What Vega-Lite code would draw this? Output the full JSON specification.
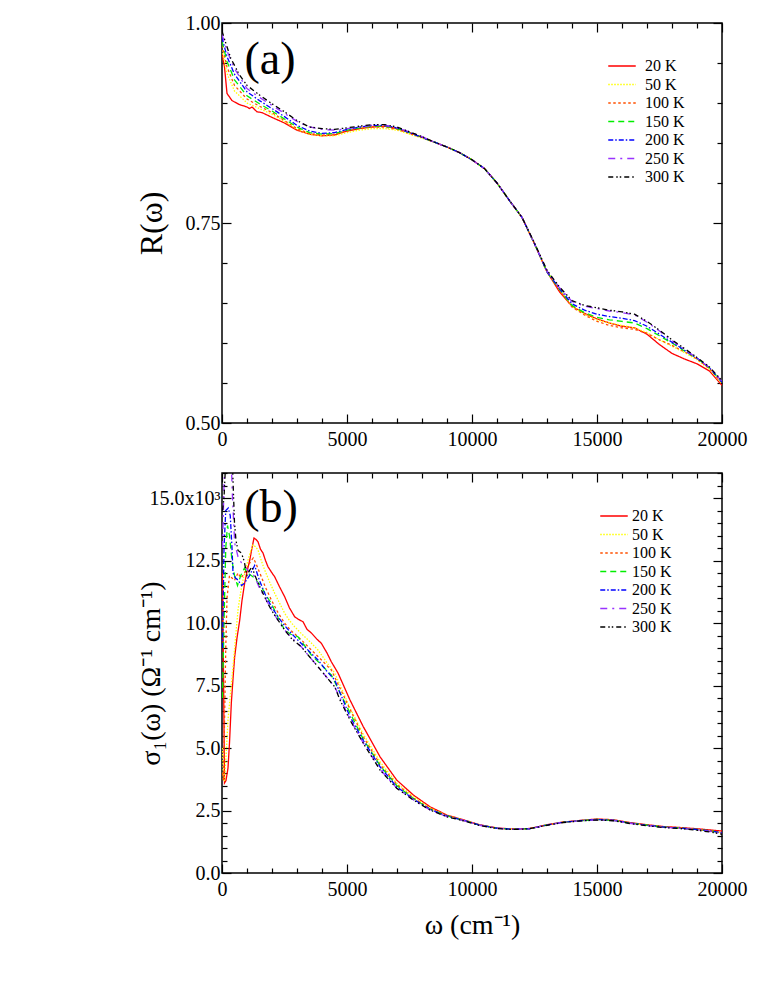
{
  "$schema": "https://vega.github.io/schema/vega-lite/v6.json",
  "background": "white",
  "padding": {"left": 134, "top": 12, "right": 5, "bottom": 5},
  "spacing": 8,
  "config": {
    "view": {"stroke": "black", "strokeWidth": 1.5},
    "font": "Liberation Serif",
    "axis": {"labelFont": "Liberation Serif", "titleFont": "Liberation Serif", "labelFontSize": 20, "labelColor": "black", "tickColor": "black", "tickWidth": 1.2, "domain": false, "grid": false, "titleFontWeight": "normal", "titleColor": "black"},
    "legend": {"labelFont": "Liberation Serif", "labelFontSize": 16, "labelColor": "black", "padding": 0, "rowPadding": 2.5, "symbolStrokeWidth": 1.5, "symbolType": "M-2.75,0H2.75", "symbolSize": 100}
  },
  "datasets": {
    "a": [
      {"T":"20 K","w":0,"v":0.962},{"T":"20 K","w":100,"v":0.945},{"T":"20 K","w":200,"v":0.912},{"T":"20 K","w":400,"v":0.903},{"T":"20 K","w":700,"v":0.898},{"T":"20 K","w":1000,"v":0.895},{"T":"20 K","w":1100,"v":0.893},{"T":"20 K","w":1200,"v":0.895},{"T":"20 K","w":1400,"v":0.889},{"T":"20 K","w":1600,"v":0.888},{"T":"20 K","w":2000,"v":0.882},{"T":"20 K","w":2500,"v":0.875},{"T":"20 K","w":3000,"v":0.866},{"T":"20 K","w":3500,"v":0.861},{"T":"20 K","w":4000,"v":0.859},{"T":"20 K","w":4500,"v":0.86},{"T":"20 K","w":5000,"v":0.865},{"T":"20 K","w":5500,"v":0.868},{"T":"20 K","w":6000,"v":0.87},{"T":"20 K","w":6500,"v":0.871},{"T":"20 K","w":7000,"v":0.868},{"T":"20 K","w":7500,"v":0.863},{"T":"20 K","w":8000,"v":0.857},{"T":"20 K","w":8500,"v":0.851},{"T":"20 K","w":9000,"v":0.845},{"T":"20 K","w":9500,"v":0.838},{"T":"20 K","w":10000,"v":0.829},{"T":"20 K","w":10500,"v":0.818},{"T":"20 K","w":11000,"v":0.8},{"T":"20 K","w":11500,"v":0.778},{"T":"20 K","w":12000,"v":0.757},{"T":"20 K","w":12500,"v":0.724},{"T":"20 K","w":13000,"v":0.689},{"T":"20 K","w":13500,"v":0.664},{"T":"20 K","w":14000,"v":0.646},{"T":"20 K","w":14500,"v":0.637},{"T":"20 K","w":15000,"v":0.63},{"T":"20 K","w":15500,"v":0.625},{"T":"20 K","w":16000,"v":0.621},{"T":"20 K","w":16500,"v":0.619},{"T":"20 K","w":17000,"v":0.611},{"T":"20 K","w":17500,"v":0.598},{"T":"20 K","w":18000,"v":0.587},{"T":"20 K","w":18500,"v":0.58},{"T":"20 K","w":19000,"v":0.574},{"T":"20 K","w":19500,"v":0.565},{"T":"20 K","w":20000,"v":0.547},

      {"T":"50 K","w":0,"v":0.966},{"T":"50 K","w":200,"v":0.937},{"T":"50 K","w":500,"v":0.915},{"T":"50 K","w":1000,"v":0.9},{"T":"50 K","w":1500,"v":0.893},{"T":"50 K","w":2000,"v":0.886},{"T":"50 K","w":2500,"v":0.877},{"T":"50 K","w":3000,"v":0.867},{"T":"50 K","w":3500,"v":0.861},{"T":"50 K","w":4000,"v":0.859},{"T":"50 K","w":4500,"v":0.859},{"T":"50 K","w":5000,"v":0.863},{"T":"50 K","w":5500,"v":0.866},{"T":"50 K","w":6000,"v":0.868},{"T":"50 K","w":6500,"v":0.868},{"T":"50 K","w":7000,"v":0.866},{"T":"50 K","w":7500,"v":0.861},{"T":"50 K","w":8000,"v":0.856},{"T":"50 K","w":8500,"v":0.851},{"T":"50 K","w":9000,"v":0.845},{"T":"50 K","w":9500,"v":0.838},{"T":"50 K","w":10000,"v":0.829},{"T":"50 K","w":10500,"v":0.818},{"T":"50 K","w":11000,"v":0.8},{"T":"50 K","w":11500,"v":0.778},{"T":"50 K","w":12000,"v":0.757},{"T":"50 K","w":12500,"v":0.724},{"T":"50 K","w":13000,"v":0.689},{"T":"50 K","w":13500,"v":0.667},{"T":"50 K","w":14000,"v":0.646},{"T":"50 K","w":14500,"v":0.636},{"T":"50 K","w":15000,"v":0.629},{"T":"50 K","w":15500,"v":0.625},{"T":"50 K","w":16000,"v":0.622},{"T":"50 K","w":16500,"v":0.619},{"T":"50 K","w":17000,"v":0.613},{"T":"50 K","w":17500,"v":0.604},{"T":"50 K","w":18000,"v":0.596},{"T":"50 K","w":18500,"v":0.588},{"T":"50 K","w":19000,"v":0.579},{"T":"50 K","w":19500,"v":0.567},{"T":"50 K","w":20000,"v":0.549},

      {"T":"100 K","w":0,"v":0.972},{"T":"100 K","w":200,"v":0.945},{"T":"100 K","w":500,"v":0.922},{"T":"100 K","w":1000,"v":0.905},{"T":"100 K","w":1500,"v":0.896},{"T":"100 K","w":2000,"v":0.888},{"T":"100 K","w":2500,"v":0.878},{"T":"100 K","w":3000,"v":0.868},{"T":"100 K","w":3500,"v":0.862},{"T":"100 K","w":4000,"v":0.86},{"T":"100 K","w":4500,"v":0.861},{"T":"100 K","w":5000,"v":0.865},{"T":"100 K","w":5500,"v":0.868},{"T":"100 K","w":6000,"v":0.87},{"T":"100 K","w":6500,"v":0.87},{"T":"100 K","w":7000,"v":0.867},{"T":"100 K","w":7500,"v":0.862},{"T":"100 K","w":8000,"v":0.857},{"T":"100 K","w":8500,"v":0.851},{"T":"100 K","w":9000,"v":0.845},{"T":"100 K","w":9500,"v":0.838},{"T":"100 K","w":10000,"v":0.829},{"T":"100 K","w":10500,"v":0.818},{"T":"100 K","w":11000,"v":0.8},{"T":"100 K","w":11500,"v":0.778},{"T":"100 K","w":12000,"v":0.757},{"T":"100 K","w":12500,"v":0.724},{"T":"100 K","w":13000,"v":0.689},{"T":"100 K","w":13500,"v":0.666},{"T":"100 K","w":14000,"v":0.645},{"T":"100 K","w":14500,"v":0.635},{"T":"100 K","w":15000,"v":0.627},{"T":"100 K","w":15500,"v":0.622},{"T":"100 K","w":16000,"v":0.619},{"T":"100 K","w":16500,"v":0.617},{"T":"100 K","w":17000,"v":0.612},{"T":"100 K","w":17500,"v":0.604},{"T":"100 K","w":18000,"v":0.597},{"T":"100 K","w":18500,"v":0.589},{"T":"100 K","w":19000,"v":0.58},{"T":"100 K","w":19500,"v":0.568},{"T":"100 K","w":20000,"v":0.55},

      {"T":"150 K","w":0,"v":0.977},{"T":"150 K","w":200,"v":0.952},{"T":"150 K","w":500,"v":0.929},{"T":"150 K","w":1000,"v":0.909},{"T":"150 K","w":1500,"v":0.899},{"T":"150 K","w":2000,"v":0.89},{"T":"150 K","w":2500,"v":0.88},{"T":"150 K","w":3000,"v":0.87},{"T":"150 K","w":3500,"v":0.863},{"T":"150 K","w":4000,"v":0.861},{"T":"150 K","w":4500,"v":0.862},{"T":"150 K","w":5000,"v":0.866},{"T":"150 K","w":5500,"v":0.869},{"T":"150 K","w":6000,"v":0.871},{"T":"150 K","w":6500,"v":0.871},{"T":"150 K","w":7000,"v":0.868},{"T":"150 K","w":7500,"v":0.863},{"T":"150 K","w":8000,"v":0.857},{"T":"150 K","w":8500,"v":0.851},{"T":"150 K","w":9000,"v":0.845},{"T":"150 K","w":9500,"v":0.838},{"T":"150 K","w":10000,"v":0.829},{"T":"150 K","w":10500,"v":0.818},{"T":"150 K","w":11000,"v":0.8},{"T":"150 K","w":11500,"v":0.778},{"T":"150 K","w":12000,"v":0.757},{"T":"150 K","w":12500,"v":0.724},{"T":"150 K","w":13000,"v":0.689},{"T":"150 K","w":13500,"v":0.667},{"T":"150 K","w":14000,"v":0.647},{"T":"150 K","w":14500,"v":0.638},{"T":"150 K","w":15000,"v":0.632},{"T":"150 K","w":15500,"v":0.629},{"T":"150 K","w":16000,"v":0.627},{"T":"150 K","w":16500,"v":0.625},{"T":"150 K","w":17000,"v":0.618},{"T":"150 K","w":17500,"v":0.609},{"T":"150 K","w":18000,"v":0.6},{"T":"150 K","w":18500,"v":0.59},{"T":"150 K","w":19000,"v":0.581},{"T":"150 K","w":19500,"v":0.569},{"T":"150 K","w":20000,"v":0.551},

      {"T":"200 K","w":0,"v":0.982},{"T":"200 K","w":200,"v":0.958},{"T":"200 K","w":500,"v":0.936},{"T":"200 K","w":1000,"v":0.914},{"T":"200 K","w":1500,"v":0.903},{"T":"200 K","w":2000,"v":0.893},{"T":"200 K","w":2500,"v":0.883},{"T":"200 K","w":3000,"v":0.872},{"T":"200 K","w":3500,"v":0.865},{"T":"200 K","w":4000,"v":0.862},{"T":"200 K","w":4500,"v":0.863},{"T":"200 K","w":5000,"v":0.867},{"T":"200 K","w":5500,"v":0.87},{"T":"200 K","w":6000,"v":0.872},{"T":"200 K","w":6500,"v":0.872},{"T":"200 K","w":7000,"v":0.869},{"T":"200 K","w":7500,"v":0.863},{"T":"200 K","w":8000,"v":0.857},{"T":"200 K","w":8500,"v":0.851},{"T":"200 K","w":9000,"v":0.845},{"T":"200 K","w":9500,"v":0.838},{"T":"200 K","w":10000,"v":0.829},{"T":"200 K","w":10500,"v":0.818},{"T":"200 K","w":11000,"v":0.8},{"T":"200 K","w":11500,"v":0.778},{"T":"200 K","w":12000,"v":0.757},{"T":"200 K","w":12500,"v":0.724},{"T":"200 K","w":13000,"v":0.689},{"T":"200 K","w":13500,"v":0.668},{"T":"200 K","w":14000,"v":0.649},{"T":"200 K","w":14500,"v":0.641},{"T":"200 K","w":15000,"v":0.636},{"T":"200 K","w":15500,"v":0.633},{"T":"200 K","w":16000,"v":0.631},{"T":"200 K","w":16500,"v":0.628},{"T":"200 K","w":17000,"v":0.621},{"T":"200 K","w":17500,"v":0.611},{"T":"200 K","w":18000,"v":0.601},{"T":"200 K","w":18500,"v":0.591},{"T":"200 K","w":19000,"v":0.581},{"T":"200 K","w":19500,"v":0.569},{"T":"200 K","w":20000,"v":0.551},

      {"T":"250 K","w":0,"v":0.986},{"T":"250 K","w":200,"v":0.965},{"T":"250 K","w":500,"v":0.943},{"T":"250 K","w":1000,"v":0.918},{"T":"250 K","w":1500,"v":0.907},{"T":"250 K","w":2000,"v":0.897},{"T":"250 K","w":2500,"v":0.887},{"T":"250 K","w":3000,"v":0.877},{"T":"250 K","w":3500,"v":0.87},{"T":"250 K","w":4000,"v":0.867},{"T":"250 K","w":4500,"v":0.866},{"T":"250 K","w":5000,"v":0.868},{"T":"250 K","w":5500,"v":0.87},{"T":"250 K","w":6000,"v":0.872},{"T":"250 K","w":6500,"v":0.872},{"T":"250 K","w":7000,"v":0.869},{"T":"250 K","w":7500,"v":0.864},{"T":"250 K","w":8000,"v":0.858},{"T":"250 K","w":8500,"v":0.851},{"T":"250 K","w":9000,"v":0.845},{"T":"250 K","w":9500,"v":0.838},{"T":"250 K","w":10000,"v":0.829},{"T":"250 K","w":10500,"v":0.818},{"T":"250 K","w":11000,"v":0.8},{"T":"250 K","w":11500,"v":0.778},{"T":"250 K","w":12000,"v":0.757},{"T":"250 K","w":12500,"v":0.724},{"T":"250 K","w":13000,"v":0.69},{"T":"250 K","w":13500,"v":0.669},{"T":"250 K","w":14000,"v":0.652},{"T":"250 K","w":14500,"v":0.646},{"T":"250 K","w":15000,"v":0.643},{"T":"250 K","w":15500,"v":0.64},{"T":"250 K","w":16000,"v":0.638},{"T":"250 K","w":16500,"v":0.635},{"T":"250 K","w":17000,"v":0.626},{"T":"250 K","w":17500,"v":0.615},{"T":"250 K","w":18000,"v":0.603},{"T":"250 K","w":18500,"v":0.592},{"T":"250 K","w":19000,"v":0.581},{"T":"250 K","w":19500,"v":0.569},{"T":"250 K","w":20000,"v":0.552},

      {"T":"300 K","w":0,"v":0.99},{"T":"300 K","w":150,"v":0.975},{"T":"300 K","w":350,"v":0.956},{"T":"300 K","w":700,"v":0.935},{"T":"300 K","w":1000,"v":0.922},{"T":"300 K","w":1500,"v":0.91},{"T":"300 K","w":2000,"v":0.899},{"T":"300 K","w":2500,"v":0.889},{"T":"300 K","w":3000,"v":0.878},{"T":"300 K","w":3500,"v":0.87},{"T":"300 K","w":4000,"v":0.868},{"T":"300 K","w":4500,"v":0.867},{"T":"300 K","w":5000,"v":0.869},{"T":"300 K","w":5500,"v":0.871},{"T":"300 K","w":6000,"v":0.873},{"T":"300 K","w":6500,"v":0.873},{"T":"300 K","w":7000,"v":0.87},{"T":"300 K","w":7500,"v":0.864},{"T":"300 K","w":8000,"v":0.858},{"T":"300 K","w":8500,"v":0.851},{"T":"300 K","w":9000,"v":0.845},{"T":"300 K","w":9500,"v":0.838},{"T":"300 K","w":10000,"v":0.829},{"T":"300 K","w":10500,"v":0.818},{"T":"300 K","w":11000,"v":0.8},{"T":"300 K","w":11500,"v":0.778},{"T":"300 K","w":12000,"v":0.757},{"T":"300 K","w":12500,"v":0.725},{"T":"300 K","w":13000,"v":0.691},{"T":"300 K","w":13500,"v":0.67},{"T":"300 K","w":14000,"v":0.653},{"T":"300 K","w":14500,"v":0.647},{"T":"300 K","w":15000,"v":0.644},{"T":"300 K","w":15500,"v":0.641},{"T":"300 K","w":16000,"v":0.639},{"T":"300 K","w":16500,"v":0.636},{"T":"300 K","w":17000,"v":0.627},{"T":"300 K","w":17500,"v":0.616},{"T":"300 K","w":18000,"v":0.604},{"T":"300 K","w":18500,"v":0.593},{"T":"300 K","w":19000,"v":0.582},{"T":"300 K","w":19500,"v":0.57},{"T":"300 K","w":20000,"v":0.553}
    ],
    "b": [
      {"T":"20 K","w":20,"v":12000},{"T":"20 K","w":60,"v":8000},{"T":"20 K","w":100,"v":3600},{"T":"20 K","w":160,"v":3700},{"T":"20 K","w":240,"v":4200},{"T":"20 K","w":300,"v":5200},{"T":"20 K","w":373,"v":6800},{"T":"20 K","w":450,"v":7900},{"T":"20 K","w":507,"v":8650},{"T":"20 K","w":600,"v":9400},{"T":"20 K","w":707,"v":10100},{"T":"20 K","w":800,"v":10900},{"T":"20 K","w":907,"v":11600},{"T":"20 K","w":1000,"v":12050},{"T":"20 K","w":1107,"v":12500},{"T":"20 K","w":1200,"v":13000},{"T":"20 K","w":1280,"v":13400},{"T":"20 K","w":1350,"v":13350},{"T":"20 K","w":1440,"v":13250},{"T":"20 K","w":1540,"v":12950},{"T":"20 K","w":1640,"v":12800},{"T":"20 K","w":1740,"v":12500},{"T":"20 K","w":1840,"v":12250},{"T":"20 K","w":2000,"v":12000},{"T":"20 K","w":2107,"v":11850},{"T":"20 K","w":2300,"v":11450},{"T":"20 K","w":2507,"v":11050},{"T":"20 K","w":2700,"v":10600},{"T":"20 K","w":2907,"v":10250},{"T":"20 K","w":3050,"v":10150},{"T":"20 K","w":3240,"v":10050},{"T":"20 K","w":3400,"v":9750},{"T":"20 K","w":3573,"v":9600},{"T":"20 K","w":3800,"v":9350},{"T":"20 K","w":3973,"v":9190},{"T":"20 K","w":4200,"v":8800},{"T":"20 K","w":4373,"v":8450},{"T":"20 K","w":4640,"v":8000},{"T":"20 K","w":5120,"v":6920},{"T":"20 K","w":5653,"v":5850},{"T":"20 K","w":6320,"v":4650},{"T":"20 K","w":6987,"v":3720},{"T":"20 K","w":7653,"v":3120},{"T":"20 K","w":8320,"v":2650},{"T":"20 K","w":8987,"v":2320},{"T":"20 K","w":9650,"v":2130},{"T":"20 K","w":10300,"v":1930},{"T":"20 K","w":11000,"v":1800},{"T":"20 K","w":11650,"v":1760},{"T":"20 K","w":12300,"v":1780},{"T":"20 K","w":13000,"v":1930},{"T":"20 K","w":13650,"v":2040},{"T":"20 K","w":14300,"v":2100},{"T":"20 K","w":15000,"v":2160},{"T":"20 K","w":15650,"v":2130},{"T":"20 K","w":16300,"v":2020},{"T":"20 K","w":17000,"v":1930},{"T":"20 K","w":17650,"v":1860},{"T":"20 K","w":18300,"v":1820},{"T":"20 K","w":19000,"v":1770},{"T":"20 K","w":19650,"v":1710},{"T":"20 K","w":20000,"v":1680},

      {"T":"50 K","w":20,"v":5000},{"T":"50 K","w":60,"v":3700},{"T":"50 K","w":100,"v":3700},{"T":"50 K","w":170,"v":4800},{"T":"50 K","w":240,"v":6120},{"T":"50 K","w":340,"v":7200},{"T":"50 K","w":440,"v":8250},{"T":"50 K","w":540,"v":9400},{"T":"50 K","w":640,"v":10520},{"T":"50 K","w":740,"v":11200},{"T":"50 K","w":840,"v":11720},{"T":"50 K","w":940,"v":12100},{"T":"50 K","w":1040,"v":12520},{"T":"50 K","w":1140,"v":12850},{"T":"50 K","w":1240,"v":13120},{"T":"50 K","w":1340,"v":13050},{"T":"50 K","w":1440,"v":12920},{"T":"50 K","w":1570,"v":12500},{"T":"50 K","w":1707,"v":12120},{"T":"50 K","w":1900,"v":11650},{"T":"50 K","w":2107,"v":11190},{"T":"50 K","w":2300,"v":10800},{"T":"50 K","w":2507,"v":10390},{"T":"50 K","w":2700,"v":10100},{"T":"50 K","w":2907,"v":9850},{"T":"50 K","w":3100,"v":9650},{"T":"50 K","w":3307,"v":9450},{"T":"50 K","w":3573,"v":9200},{"T":"50 K","w":3840,"v":8920},{"T":"50 K","w":4170,"v":8450},{"T":"50 K","w":4507,"v":8000},{"T":"50 K","w":5120,"v":6600},{"T":"50 K","w":5653,"v":5550},{"T":"50 K","w":6320,"v":4450},{"T":"50 K","w":6987,"v":3600},{"T":"50 K","w":7653,"v":3050},{"T":"50 K","w":8320,"v":2600},{"T":"50 K","w":8987,"v":2300},{"T":"50 K","w":9650,"v":2110},{"T":"50 K","w":10300,"v":1920},{"T":"50 K","w":11000,"v":1790},{"T":"50 K","w":11650,"v":1750},{"T":"50 K","w":12300,"v":1770},{"T":"50 K","w":13000,"v":1920},{"T":"50 K","w":13650,"v":2030},{"T":"50 K","w":14300,"v":2090},{"T":"50 K","w":15000,"v":2140},{"T":"50 K","w":15650,"v":2110},{"T":"50 K","w":16300,"v":2000},{"T":"50 K","w":17000,"v":1910},{"T":"50 K","w":17650,"v":1840},{"T":"50 K","w":18300,"v":1800},{"T":"50 K","w":19000,"v":1740},{"T":"50 K","w":19650,"v":1670},{"T":"50 K","w":20000,"v":1600},

      {"T":"100 K","w":20,"v":4000},{"T":"100 K","w":60,"v":3700},{"T":"100 K","w":100,"v":6000},{"T":"100 K","w":150,"v":9000},{"T":"100 K","w":200,"v":11000},{"T":"100 K","w":300,"v":11900},{"T":"100 K","w":400,"v":11800},{"T":"100 K","w":500,"v":11700},{"T":"100 K","w":640,"v":12000},{"T":"100 K","w":760,"v":11800},{"T":"100 K","w":900,"v":12000},{"T":"100 K","w":1050,"v":12300},{"T":"100 K","w":1173,"v":12500},{"T":"100 K","w":1250,"v":12600},{"T":"100 K","w":1350,"v":12400},{"T":"100 K","w":1450,"v":12150},{"T":"100 K","w":1573,"v":11850},{"T":"100 K","w":1750,"v":11400},{"T":"100 K","w":1973,"v":10920},{"T":"100 K","w":2250,"v":10400},{"T":"100 K","w":2507,"v":9990},{"T":"100 K","w":2750,"v":9700},{"T":"100 K","w":3040,"v":9450},{"T":"100 K","w":3300,"v":9200},{"T":"100 K","w":3573,"v":8920},{"T":"100 K","w":3950,"v":8550},{"T":"100 K","w":4373,"v":8120},{"T":"100 K","w":5120,"v":6550},{"T":"100 K","w":5653,"v":5450},{"T":"100 K","w":6320,"v":4350},{"T":"100 K","w":6987,"v":3550},{"T":"100 K","w":7653,"v":3000},{"T":"100 K","w":8320,"v":2580},{"T":"100 K","w":8987,"v":2300},{"T":"100 K","w":9650,"v":2110},{"T":"100 K","w":10300,"v":1920},{"T":"100 K","w":11000,"v":1790},{"T":"100 K","w":11650,"v":1750},{"T":"100 K","w":12300,"v":1770},{"T":"100 K","w":13000,"v":1920},{"T":"100 K","w":13650,"v":2030},{"T":"100 K","w":14300,"v":2090},{"T":"100 K","w":15000,"v":2140},{"T":"100 K","w":15650,"v":2110},{"T":"100 K","w":16300,"v":2000},{"T":"100 K","w":17000,"v":1910},{"T":"100 K","w":17650,"v":1840},{"T":"100 K","w":18300,"v":1800},{"T":"100 K","w":19000,"v":1740},{"T":"100 K","w":19650,"v":1670},{"T":"100 K","w":20000,"v":1600},

      {"T":"150 K","w":20,"v":7000},{"T":"150 K","w":80,"v":10000},{"T":"150 K","w":150,"v":13000},{"T":"150 K","w":220,"v":13900},{"T":"150 K","w":300,"v":13500},{"T":"150 K","w":400,"v":12500},{"T":"150 K","w":500,"v":11900},{"T":"150 K","w":620,"v":11500},{"T":"150 K","w":750,"v":11900},{"T":"150 K","w":900,"v":12200},{"T":"150 K","w":1000,"v":12000},{"T":"150 K","w":1100,"v":11950},{"T":"150 K","w":1300,"v":11800},{"T":"150 K","w":1573,"v":11450},{"T":"150 K","w":1800,"v":11050},{"T":"150 K","w":1973,"v":10790},{"T":"150 K","w":2250,"v":10200},{"T":"150 K","w":2507,"v":9720},{"T":"150 K","w":2750,"v":9550},{"T":"150 K","w":3040,"v":9450},{"T":"150 K","w":3300,"v":9100},{"T":"150 K","w":3573,"v":8720},{"T":"150 K","w":3950,"v":8350},{"T":"150 K","w":4373,"v":7920},{"T":"150 K","w":5120,"v":6400},{"T":"150 K","w":5653,"v":5350},{"T":"150 K","w":6320,"v":4300},{"T":"150 K","w":6987,"v":3500},{"T":"150 K","w":7653,"v":2980},{"T":"150 K","w":8320,"v":2560},{"T":"150 K","w":8987,"v":2290},{"T":"150 K","w":9650,"v":2110},{"T":"150 K","w":10300,"v":1920},{"T":"150 K","w":11000,"v":1790},{"T":"150 K","w":11650,"v":1750},{"T":"150 K","w":12300,"v":1770},{"T":"150 K","w":13000,"v":1920},{"T":"150 K","w":13650,"v":2030},{"T":"150 K","w":14300,"v":2090},{"T":"150 K","w":15000,"v":2140},{"T":"150 K","w":15650,"v":2110},{"T":"150 K","w":16300,"v":2000},{"T":"150 K","w":17000,"v":1910},{"T":"150 K","w":17650,"v":1840},{"T":"150 K","w":18300,"v":1800},{"T":"150 K","w":19000,"v":1740},{"T":"150 K","w":19650,"v":1670},{"T":"150 K","w":20000,"v":1600},

      {"T":"200 K","w":20,"v":9000},{"T":"200 K","w":80,"v":13000},{"T":"200 K","w":150,"v":14500},{"T":"200 K","w":250,"v":14600},{"T":"200 K","w":330,"v":14300},{"T":"200 K","w":400,"v":13000},{"T":"200 K","w":440,"v":12000},{"T":"200 K","w":540,"v":11800},{"T":"200 K","w":640,"v":11720},{"T":"200 K","w":780,"v":11500},{"T":"200 K","w":907,"v":11600},{"T":"200 K","w":1000,"v":11750},{"T":"200 K","w":1107,"v":11900},{"T":"200 K","w":1200,"v":12100},{"T":"200 K","w":1307,"v":12300},{"T":"200 K","w":1400,"v":12000},{"T":"200 K","w":1500,"v":11700},{"T":"200 K","w":1707,"v":11190},{"T":"200 K","w":1950,"v":10700},{"T":"200 K","w":2240,"v":10250},{"T":"200 K","w":2500,"v":9900},{"T":"200 K","w":2773,"v":9590},{"T":"200 K","w":3050,"v":9300},{"T":"200 K","w":3307,"v":9050},{"T":"200 K","w":3573,"v":8780},{"T":"200 K","w":3840,"v":8520},{"T":"200 K","w":4170,"v":8100},{"T":"200 K","w":4507,"v":7720},{"T":"200 K","w":5120,"v":6250},{"T":"200 K","w":5653,"v":5300},{"T":"200 K","w":6320,"v":4250},{"T":"200 K","w":6987,"v":3450},{"T":"200 K","w":7653,"v":2960},{"T":"200 K","w":8320,"v":2550},{"T":"200 K","w":8987,"v":2280},{"T":"200 K","w":9650,"v":2110},{"T":"200 K","w":10300,"v":1920},{"T":"200 K","w":11000,"v":1790},{"T":"200 K","w":11650,"v":1750},{"T":"200 K","w":12300,"v":1770},{"T":"200 K","w":13000,"v":1920},{"T":"200 K","w":13650,"v":2030},{"T":"200 K","w":14300,"v":2090},{"T":"200 K","w":15000,"v":2140},{"T":"200 K","w":15650,"v":2110},{"T":"200 K","w":16300,"v":2000},{"T":"200 K","w":17000,"v":1910},{"T":"200 K","w":17650,"v":1840},{"T":"200 K","w":18300,"v":1800},{"T":"200 K","w":19000,"v":1740},{"T":"200 K","w":19650,"v":1670},{"T":"200 K","w":20000,"v":1600},

      {"T":"250 K","w":20,"v":13000},{"T":"250 K","w":80,"v":15500},{"T":"250 K","w":150,"v":17000},{"T":"250 K","w":250,"v":17500},{"T":"250 K","w":350,"v":17000},{"T":"250 K","w":420,"v":15000},{"T":"250 K","w":507,"v":13200},{"T":"250 K","w":640,"v":12650},{"T":"250 K","w":780,"v":12400},{"T":"250 K","w":907,"v":12250},{"T":"250 K","w":1050,"v":12100},{"T":"250 K","w":1200,"v":12000},{"T":"250 K","w":1307,"v":11850},{"T":"250 K","w":1500,"v":11400},{"T":"250 K","w":1840,"v":10790},{"T":"250 K","w":2150,"v":10250},{"T":"250 K","w":2507,"v":9720},{"T":"250 K","w":2800,"v":9400},{"T":"250 K","w":3173,"v":9050},{"T":"250 K","w":3500,"v":8650},{"T":"250 K","w":3840,"v":8250},{"T":"250 K","w":4170,"v":7850},{"T":"250 K","w":4507,"v":7450},{"T":"250 K","w":5120,"v":6150},{"T":"250 K","w":5653,"v":5200},{"T":"250 K","w":6320,"v":4150},{"T":"250 K","w":6987,"v":3400},{"T":"250 K","w":7653,"v":2930},{"T":"250 K","w":8320,"v":2520},{"T":"250 K","w":8987,"v":2260},{"T":"250 K","w":9650,"v":2100},{"T":"250 K","w":10300,"v":1910},{"T":"250 K","w":11000,"v":1790},{"T":"250 K","w":11650,"v":1750},{"T":"250 K","w":12300,"v":1770},{"T":"250 K","w":13000,"v":1920},{"T":"250 K","w":13650,"v":2030},{"T":"250 K","w":14300,"v":2090},{"T":"250 K","w":15000,"v":2130},{"T":"250 K","w":15650,"v":2100},{"T":"250 K","w":16300,"v":1990},{"T":"250 K","w":17000,"v":1900},{"T":"250 K","w":17650,"v":1830},{"T":"250 K","w":18300,"v":1790},{"T":"250 K","w":19000,"v":1730},{"T":"250 K","w":19650,"v":1650},{"T":"250 K","w":20000,"v":1580},

      {"T":"300 K","w":20,"v":14500},{"T":"300 K","w":80,"v":15000},{"T":"300 K","w":150,"v":16500},{"T":"300 K","w":250,"v":17500},{"T":"300 K","w":350,"v":17500},{"T":"300 K","w":430,"v":16000},{"T":"300 K","w":500,"v":14000},{"T":"300 K","w":560,"v":13300},{"T":"300 K","w":640,"v":12900},{"T":"300 K","w":773,"v":12800},{"T":"300 K","w":880,"v":12500},{"T":"300 K","w":1000,"v":11900},{"T":"300 K","w":1100,"v":12100},{"T":"300 K","w":1200,"v":12250},{"T":"300 K","w":1300,"v":11950},{"T":"300 K","w":1400,"v":11700},{"T":"300 K","w":1573,"v":11320},{"T":"300 K","w":1800,"v":10850},{"T":"300 K","w":1973,"v":10520},{"T":"300 K","w":2250,"v":10100},{"T":"300 K","w":2507,"v":9720},{"T":"300 K","w":2800,"v":9350},{"T":"300 K","w":3173,"v":9050},{"T":"300 K","w":3500,"v":8650},{"T":"300 K","w":3840,"v":8250},{"T":"300 K","w":4170,"v":7850},{"T":"300 K","w":4507,"v":7450},{"T":"300 K","w":4720,"v":6920},{"T":"300 K","w":5120,"v":6120},{"T":"300 K","w":5653,"v":5190},{"T":"300 K","w":6320,"v":4120},{"T":"300 K","w":6987,"v":3390},{"T":"300 K","w":7653,"v":2920},{"T":"300 K","w":8320,"v":2520},{"T":"300 K","w":8987,"v":2250},{"T":"300 K","w":9650,"v":2090},{"T":"300 K","w":10300,"v":1900},{"T":"300 K","w":11000,"v":1780},{"T":"300 K","w":11650,"v":1740},{"T":"300 K","w":12300,"v":1770},{"T":"300 K","w":13000,"v":1910},{"T":"300 K","w":13650,"v":2020},{"T":"300 K","w":14300,"v":2080},{"T":"300 K","w":15000,"v":2120},{"T":"300 K","w":15650,"v":2090},{"T":"300 K","w":16300,"v":1980},{"T":"300 K","w":17000,"v":1890},{"T":"300 K","w":17650,"v":1820},{"T":"300 K","w":18300,"v":1780},{"T":"300 K","w":19000,"v":1710},{"T":"300 K","w":19650,"v":1620},{"T":"300 K","w":20000,"v":1550}
    ],
    "la": [{"w": 1920, "v": 0.954, "label": "(a)"}],
    "lb": [{"w": 1960, "v": 14600, "label": "(b)"}]
  },
  "resolve": {"scale": {"color": "independent", "strokeDash": "independent"}, "legend": {"color": "independent", "strokeDash": "independent"}},
  "vconcat": [
    {
      "width": 500,
      "height": 400,
      "resolve": {"axis": {"x": "independent", "y": "independent"}},
      "layer": [
        {
          "data": {"name": "a"},
          "mark": {"type": "line", "clip": true, "strokeWidth": 1.3},
          "encoding": {
            "x": {"field": "w", "type": "quantitative", "scale": {"domain": [0, 20000], "nice": false, "zero": false},
              "axis": {"orient": "bottom", "title": null, "labelFont": "Liberation Serif", "labelFontSize": 20, "values": [0,1000,2000,3000,4000,5000,6000,7000,8000,9000,10000,11000,12000,13000,14000,15000,16000,17000,18000,19000,20000],
                "labelExpr": "datum.value % 5000 === 0 ? format(datum.value, 'd') : ''", "labelFlush": false, "labelOverlap": false, "labelPadding": 15,
                "tickSize": {"condition": {"test": "datum.value % 5000 === 0", "value": -9}, "value": -5}}},
            "y": {"field": "v", "type": "quantitative", "scale": {"domain": [0.5, 1.0], "nice": false, "zero": false},
              "axis": {"orient": "left", "title": "R(ω)", "labelFont": "Liberation Serif", "labelFontSize": 20, "titleFont": "Liberation Serif", "titleFontSize": 32, "titleX": -71, "titleY": 200, "titleAngle": 270, "titleAlign": "center", "titleBaseline": "middle",
                "values": [0.5,0.55,0.6,0.65,0.7,0.75,0.8,0.85,0.9,0.95,1.0],
                "labelExpr": "(abs(datum.value - 0.5) < 1e-6 || abs(datum.value - 0.75) < 1e-6 || abs(datum.value - 1) < 1e-6) ? format(datum.value, '.2f') : ''", "labelOverlap": false, "labelFlush": false, "labelPadding": 11,
                "tickSize": {"condition": {"test": "abs(datum.value - 0.5) < 1e-6 || abs(datum.value - 0.75) < 1e-6 || abs(datum.value - 1) < 1e-6", "value": -9}, "value": -5}}},
            "color": {"field": "T", "type": "nominal",
              "scale": {"domain": ["20 K","50 K","100 K","150 K","200 K","250 K","300 K"], "range": ["#FF0000","#FFFF00","#FF5000","#00EE00","#0000FF","#9933FF","#000000"]},
              "legend": {"title": null, "orient": "none", "legendX": 392, "legendY": 35, "labelOffset": 15}},
            "strokeDash": {"field": "T", "type": "nominal",
              "scale": {"domain": ["20 K","50 K","100 K","150 K","200 K","250 K","300 K"], "range": [[1,0],[1.5,1.5],[2.5,2.5],[6,4],[5,2,1.5,2],[7,5,2,5],[5,3,1.5,2,1.5,3]]},
              "legend": {"title": null, "orient": "none", "legendX": 392, "legendY": 35, "labelOffset": 15}}
          }
        },
        {
          "data": {"name": "la"},
          "mark": {"type": "text", "font": "Liberation Serif", "fontSize": 46, "align": "center", "baseline": "middle", "color": "black"},
          "encoding": {
            "x": {"field": "w", "type": "quantitative",
              "axis": {"orient": "top", "title": null, "labels": false, "values": [0,1000,2000,3000,4000,5000,6000,7000,8000,9000,10000,11000,12000,13000,14000,15000,16000,17000,18000,19000,20000],
                "tickSize": {"condition": {"test": "datum.value % 5000 === 0", "value": -9}, "value": -5}}},
            "y": {"field": "v", "type": "quantitative",
              "axis": {"orient": "right", "title": null, "labels": false, "values": [0.5,0.55,0.6,0.65,0.7,0.75,0.8,0.85,0.9,0.95,1.0],
                "tickSize": {"condition": {"test": "abs(datum.value - 0.5) < 1e-6 || abs(datum.value - 0.75) < 1e-6 || abs(datum.value - 1) < 1e-6", "value": -9}, "value": -5}}},
            "text": {"field": "label"}
          }
        }
      ]
    },
    {
      "width": 500,
      "height": 400,
      "resolve": {"axis": {"x": "independent", "y": "independent"}},
      "layer": [
        {
          "data": {"name": "b"},
          "mark": {"type": "line", "clip": true, "strokeWidth": 1.3},
          "encoding": {
            "x": {"field": "w", "type": "quantitative", "scale": {"domain": [0, 20000], "nice": false, "zero": false},
              "axis": {"orient": "bottom", "title": "ω  (cm⁻¹)", "labelFont": "Liberation Serif", "labelFontSize": 20, "titleFont": "Liberation Serif", "titleFontSize": 28, "titleY": 52, "titleBaseline": "middle", "values": [0,1000,2000,3000,4000,5000,6000,7000,8000,9000,10000,11000,12000,13000,14000,15000,16000,17000,18000,19000,20000],
                "labelExpr": "datum.value % 5000 === 0 ? format(datum.value, 'd') : ''", "labelFlush": false, "labelOverlap": false, "labelPadding": 15,
                "tickSize": {"condition": {"test": "datum.value % 5000 === 0", "value": -9}, "value": -5}}},
            "y": {"field": "v", "type": "quantitative", "scale": {"domain": [0, 16000], "nice": false, "zero": false},
              "axis": {"orient": "left", "title": "σ₁(ω)  (Ω⁻¹ cm⁻¹)", "labelFont": "Liberation Serif", "labelFontSize": 20, "titleFont": "Liberation Serif", "titleFontSize": 28, "titleX": -71, "titleY": 200, "titleAngle": 270, "titleAlign": "center", "titleBaseline": "middle",
                "values": [0,500,1000,1500,2000,2500,3000,3500,4000,4500,5000,5500,6000,6500,7000,7500,8000,8500,9000,9500,10000,10500,11000,11500,12000,12500,13000,13500,14000,14500,15000,15500,16000],
                "labelExpr": "datum.value === 15000 ? '15.0x10³' : (datum.value % 2500 === 0 ? format(datum.value / 1000, '.1f') : '')", "labelOverlap": false, "labelFlush": false, "labelPadding": 11,
                "tickSize": {"condition": {"test": "datum.value % 2500 === 0", "value": -9}, "value": -5}}},
            "color": {"field": "T", "type": "nominal",
              "scale": {"domain": ["20 K","50 K","100 K","150 K","200 K","250 K","300 K"], "range": ["#FF0000","#FFFF00","#FF5000","#00EE00","#0000FF","#9933FF","#000000"]},
              "legend": {"title": null, "orient": "none", "legendX": 384, "legendY": 35, "labelOffset": 10}},
            "strokeDash": {"field": "T", "type": "nominal",
              "scale": {"domain": ["20 K","50 K","100 K","150 K","200 K","250 K","300 K"], "range": [[1,0],[1.5,1.5],[2.5,2.5],[6,4],[5,2,1.5,2],[7,5,2,5],[5,3,1.5,2,1.5,3]]},
              "legend": {"title": null, "orient": "none", "legendX": 384, "legendY": 35, "labelOffset": 10}}
          }
        },
        {
          "data": {"name": "lb"},
          "mark": {"type": "text", "font": "Liberation Serif", "fontSize": 46, "align": "center", "baseline": "middle", "color": "black"},
          "encoding": {
            "x": {"field": "w", "type": "quantitative",
              "axis": {"orient": "top", "title": null, "labels": false, "values": [0,1000,2000,3000,4000,5000,6000,7000,8000,9000,10000,11000,12000,13000,14000,15000,16000,17000,18000,19000,20000],
                "tickSize": {"condition": {"test": "datum.value % 5000 === 0", "value": -9}, "value": -5}}},
            "y": {"field": "v", "type": "quantitative",
              "axis": {"orient": "right", "title": null, "labels": false, "values": [0,500,1000,1500,2000,2500,3000,3500,4000,4500,5000,5500,6000,6500,7000,7500,8000,8500,9000,9500,10000,10500,11000,11500,12000,12500,13000,13500,14000,14500,15000,15500,16000],
                "tickSize": {"condition": {"test": "datum.value % 2500 === 0", "value": -9}, "value": -5}}},
            "text": {"field": "label"}
          }
        }
      ]
    }
  ]
}
